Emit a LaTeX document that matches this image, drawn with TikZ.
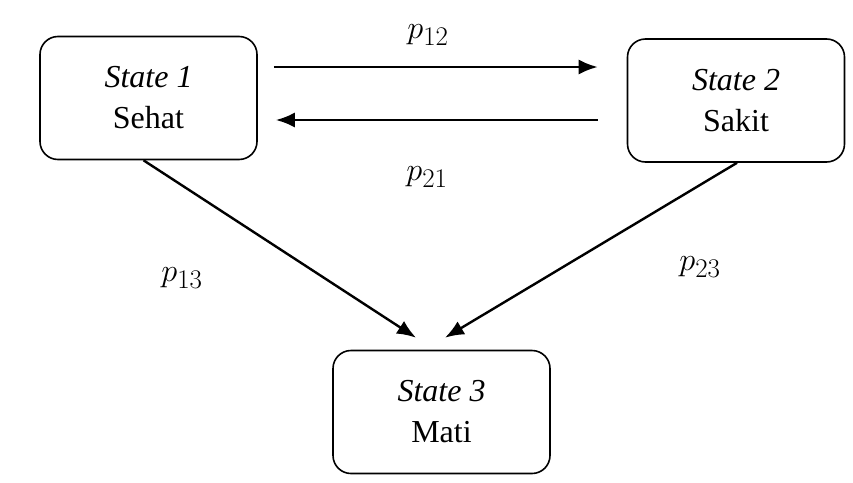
\documentclass[tikz,border=0pt]{standalone}
\usepackage{fontspec}
\setmainfont{Liberation Serif}
\usetikzlibrary{arrows,arrows.meta,positioning}

\newcommand{\plab}[1]{\scalebox{1.3}{$p_{#1}$}}

\tikzset{
  statebox/.style={draw, line width=1.6pt, rounded corners=18pt,
    minimum width=217pt, minimum height=123pt, align=center,
    font=\fontsize{32}{41}\selectfont},
  prob/.style={font=\Huge},
  trans/.style={-{Latex[length=19pt,width=15pt]}, line width=2.4pt}
}

\begin{document}
\begin{tikzpicture}[x=1pt, y=-1pt]
		\useasboundingbox (0, 0) rectangle (853, 482);
		\path (148.5, 98)  node[statebox] (s1) {\textit{State 1}\\Sehat}
		      (736, 100.5) node[statebox] (s2) {\textit{State 2}\\Sakit}
		      (441.5, 412) node[statebox] (s3) {\textit{State 3}\\Mati};
		
		\path (428, 35)  node[prob] (p12) {\plab{12}}
		      (427, 177) node[prob] (p21) {\plab{21}}
		      (182, 278) node[prob] (p13) {\plab{13}}
		      (700, 267) node[prob] (p23) {\plab{23}};
		
		\draw[trans] ([xshift=16pt, yshift=31pt]s1.east) -- ([xshift=-29pt, yshift=33.5pt]s2.west);
		\draw[trans] ([xshift=-29pt, yshift=-19.5pt]s2.west) -- ([xshift=18pt, yshift=-22pt]s1.east);
		\draw[trans] ([xshift=-5pt]s1.south) -- ([xshift=-25.5pt, yshift=12pt]s3.north);
		\draw[trans] ([xshift=1pt]s2.south) -- ([xshift=3.5pt, yshift=12pt]s3.north);
	\end{tikzpicture}
\end{document}
